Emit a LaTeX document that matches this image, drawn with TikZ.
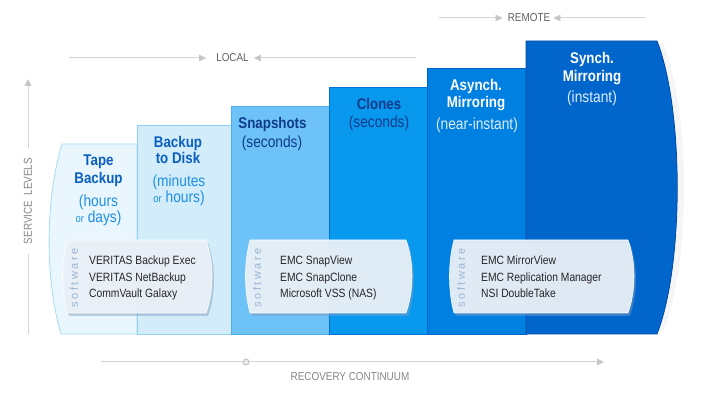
\documentclass[tikz,border=0pt]{standalone}
\usepackage{fontspec}
\setmainfont{Liberation Sans}[FakeStretch=0.86]
\newfontfamily\swfont{Liberation Sans}[LetterSpace=22]
\usetikzlibrary{arrows.meta}
\definecolor{cA}{HTML}{E9F6FD}\definecolor{cAb}{HTML}{A6DAF5}
\definecolor{cB}{HTML}{D2ECFA}\definecolor{cBb}{HTML}{8FD0F3}
\definecolor{cC}{HTML}{6DC2F7}\definecolor{cCb}{HTML}{4FAFEE}
\definecolor{cD}{HTML}{0898EE}\definecolor{cDb}{HTML}{0074D4}
\definecolor{cE}{HTML}{0080E0}\definecolor{cEb}{HTML}{0064C4}
\definecolor{cF}{HTML}{0066CC}\definecolor{cFb}{HTML}{0048A6}
\definecolor{tDark}{HTML}{0A5FC0}\definecolor{tLight}{HTML}{1C8FE8}
\definecolor{tNavy}{HTML}{0F3B8B}\definecolor{tPale}{HTML}{DDEEFF}
\definecolor{gline}{HTML}{D4D4D4}\definecolor{gtip}{HTML}{C6C6C6}
\definecolor{gtext}{HTML}{606060}\definecolor{gtextl}{HTML}{858585}
\definecolor{swL}{HTML}{C4D7EB}\definecolor{swM}{HTML}{ECF2F8}
\definecolor{swR}{HTML}{A8C2DE}\definecolor{swS}{HTML}{7F9CBF}
\definecolor{swT}{HTML}{9AB6D6}
\pgfdeclarehorizontalshading{swshade}{100bp}{color(0bp)=(swL); color(14bp)=(swM); color(76bp)=(swM); color(100bp)=(swR)}
\newcommand\swpath[2]{(#1+3,240) -- (#2-7,240) .. controls (#2+1,262) and (#2+1,291) .. (#2-7,313) -- (#1+3,313) .. controls (#1-3,291) and (#1-3,262) .. (#1+3,240) -- cycle}
\tikzset{
  guide/.style={draw=gline, line width=1pt, >={Triangle[length=7pt,width=6.5pt,fill=gtip,color=gtip]}},
  axislabel/.style={text=gtext, font=\fontsize{11.5}{13}\selectfont, inner sep=0pt},
  ttl/.style={font=\bfseries\fontsize{15.5}{17}\selectfont, inner sep=0pt, anchor=base},
  sub/.style={font=\fontsize{16}{17}\selectfont, inner sep=0pt, anchor=base},
  switem/.style={font=\fontsize{12}{14}\selectfont, text=black!85, inner sep=0pt, anchor=base west},
  swlabel/.style={font=\swfont\fontsize{11}{12}\selectfont, text=swT, rotate=90, inner sep=0pt},
  swbox/.style={shading=swshade, draw=white, line width=0.6pt, opacity=0.93},
  swshadow/.style={fill=swS, opacity=0.45},
}
\begin{document}
\begin{tikzpicture}[x=1pt,y=-1pt]
\useasboundingbox (0,0) rectangle (705,395);
% faint shadow halo right of last column
\draw[black!4, line width=6pt] (660,44) .. controls (688,110) and (688,265) .. (660,331);
% columns
\filldraw[fill=cA, draw=cAb, line width=0.8pt] (62,144) -- (137,144) -- (137,334) -- (61,334) .. controls (45,280) and (45,200) .. (62,144) -- cycle;
\filldraw[fill=cB, draw=cBb, line width=0.8pt] (137,125) rectangle (231,334);
\filldraw[fill=cC, draw=cCb, line width=0.8pt] (231,106) rectangle (329,334);
\filldraw[fill=cD, draw=cDb, line width=0.8pt] (329,87) rectangle (427,334);
\filldraw[fill=cE, draw=cEb, line width=0.8pt] (427,68) rectangle (526,334);
\filldraw[fill=cF, draw=cFb, line width=0.8pt] (526,41) -- (657,41) .. controls (684,110) and (684,265) .. (657,334) -- (526,334) -- cycle;
% titles
\node[ttl, text=tDark] (t1a) at (98.5,166) {Tape};
\node[ttl, text=tDark] (t1b) at (98.5,184) {Backup};
\node[sub, text=tLight] (s1a) at (98.5,207) {(hours};
\node[sub, text=tLight] (s1b) at (98.5,223) {{\fontsize{11}{12}\selectfont or} days)};
\node[ttl, text=tDark] (t2a) at (178,148) {Backup};
\node[ttl, text=tDark] (t2b) at (178,164) {to Disk};
\node[sub, text=tLight] (s2a) at (179,187) {(minutes};
\node[sub, text=tLight] (s2b) at (179,203) {{\fontsize{11}{12}\selectfont or} hours)};
\node[ttl, text=tNavy] (t3a) at (272.5,129) {Snapshots};
\node[sub, text=tNavy] (s3a) at (272,148) {(seconds)};
\node[ttl, text=tNavy] (t4a) at (379,110) {Clones};
\node[sub, text=tNavy] (s4a) at (379,128) {(seconds)};
\node[ttl, text=white] (t5a) at (476,91) {Asynch.};
\node[ttl, text=white] (t5b) at (476,108) {Mirroring};
\node[sub, text=tPale] (s5a) at (477,130) {(near-instant)};
\node[ttl, text=white] (t6a) at (592,64) {Synch.};
\node[ttl, text=white] (t6b) at (592,82) {Mirroring};
\node[sub, text=tPale] (s6a) at (592,103) {(instant)};
% software boxes
\fill[swshadow, shift={(2,3)}] \swpath{64}{213};
\shadedraw[swbox] \swpath{64}{213};
\fill[swshadow, shift={(2,3)}] \swpath{247}{413};
\shadedraw[swbox] \swpath{247}{413};
\fill[swshadow, shift={(2,3)}] \swpath{451}{635};
\shadedraw[swbox] \swpath{451}{635};
\node[swlabel] (sw1) at (74,278) {software};
\node[swlabel] (sw2) at (257,278) {software};
\node[swlabel] (sw3) at (461,278) {software};
\node[switem] (a1) at (89,265) {VERITAS Backup Exec};
\node[switem] (a2) at (89,282) {VERITAS NetBackup};
\node[switem] (a3) at (89,298) {CommVault Galaxy};
\node[switem] (b1) at (280,265) {EMC SnapView};
\node[switem] (b2) at (280,282) {EMC SnapClone};
\node[switem] (b3) at (280,298) {Microsoft VSS (NAS)};
\node[switem] (c1) at (481,265) {EMC MirrorView};
\node[switem] (c2) at (481,282) {EMC Replication Manager};
\node[switem] (c3) at (481,298) {NSI DoubleTake};
% LOCAL
\coordinate (loc-l) at (69,58);
\coordinate (loc-r) at (416,58);
\node[axislabel] (local) at (232.5,58) {LOCAL};
\draw[guide, ->] (loc-l) -- ([xshift=-10pt]local.west);
\draw[guide, <-] ([xshift=5pt]local.east) -- (loc-r);
% REMOTE
\coordinate (rem-l) at (439,18);
\coordinate (rem-r) at (646,18);
\node[axislabel] (remote) at (529,18) {REMOTE};
\draw[guide, ->] (rem-l) -- ([xshift=-5pt]remote.west);
\draw[guide, <-] ([xshift=3pt]remote.east) -- (rem-r);
% SERVICE LEVELS
\coordinate (sl-top) at (28,79);
\coordinate (sl-bot) at (28,334);
\node[axislabel, text=gtextl, rotate=90, inner xsep=9.5pt] (sl) at (28,201) {SERVICE\ \ LEVELS};
\draw[guide] (sl-bot) -- (sl.west);
\draw[guide, ->] (sl.east) -- (sl-top);
% RECOVERY CONTINUUM
\coordinate (rc-l) at (101,362);
\coordinate (rc-r) at (604,362);
\draw[guide, ->] (rc-l) -- (rc-r);
\node[circle, draw=gtip, fill=gline!50, line width=1pt, minimum size=6pt, inner sep=0pt] (rc-dot) at (246,362) {};
\node[axislabel, text=gtextl] (rc) at (350,377) {RECOVERY CONTINUUM};
\end{tikzpicture}
\end{document}
